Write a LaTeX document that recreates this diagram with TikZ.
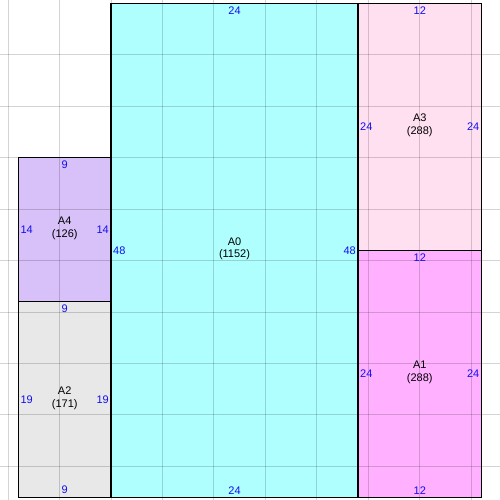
\documentclass[tikz,border=0pt]{standalone}
\usepackage{fontspec}
\setmainfont{Liberation Sans}
\definecolor{cA0}{HTML}{B0FFFF}
\definecolor{cA1}{HTML}{FFB0FF}
\definecolor{cA2}{HTML}{E8E8E8}
\definecolor{cA3}{HTML}{FFE0F0}
\definecolor{cA4}{HTML}{D8C0F8}
\definecolor{numblue}{HTML}{1010F0}
\tikzset{
  area/.style={draw=none, anchor=north west, outer sep=0pt, inner sep=0pt},
  border/.style={draw=black, line width=1.2pt},
  gridline/.style={draw=black, opacity=0.17, line width=1pt},
  toplab/.style={anchor=north, inner sep=3pt, text=numblue, font=\fontsize{11}{12.5}\selectfont},
  botlab/.style={anchor=south, inner sep=3pt, text=numblue, font=\fontsize{11}{12.5}\selectfont},
  leftlab/.style={anchor=west, inner sep=2pt, text=numblue, font=\fontsize{11}{12.5}\selectfont},
  rightlab/.style={anchor=east, inner sep=2pt, text=numblue, font=\fontsize{11}{12.5}\selectfont},
  namelab/.style={align=center, inner sep=0pt, yshift=1.5pt, font=\fontsize{11}{12.5}\selectfont}
}
\begin{document}
\begin{tikzpicture}[x=1pt, y=-1pt]
\useasboundingbox (0,0) rectangle (500,500);
\fill[white] (0,0) rectangle (500,500);
% areas
\node[area, fill=cA0, minimum width=247pt, minimum height=494pt] (A0) at (111,3.3) {};
\node[area, fill=cA3, minimum width=123.5pt, minimum height=247pt] (A3) at (358,3.3) {};
\node[area, fill=cA1, minimum width=123.5pt, minimum height=247pt] (A1) at (358,250.3) {};
\node[area, fill=cA4, minimum width=92.6pt, minimum height=144.1pt] (A4) at (18.4,157.7) {};
\node[area, fill=cA2, minimum width=92.6pt, minimum height=195.5pt] (A2) at (18.4,301.8) {};
% grid
\foreach \k in {-2,...,7} { \draw[gridline] ({111+51.458*\k},0) -- ({111+51.458*\k},500); }
\foreach \k in {1,...,9} { \draw[gridline] (0,{3.3+51.458*\k}) -- (500,{3.3+51.458*\k}); }
% borders
\foreach \n in {A0,A1,A2,A3,A4} { \draw[border] (\n.north west) rectangle (\n.south east); }
% labels A0
\node[toplab] (A0t) at (A0.north) {24};
\node[botlab] (A0b) at (A0.south) {24};
\node[leftlab] (A0l) at (A0.west) {48};
\node[rightlab] (A0r) at (A0.east) {48};
\node[namelab] (A0n) at (A0.center) {A0\\(1152)};
% A3
\node[toplab] (A3t) at (A3.north) {12};
\node[leftlab] (A3l) at (A3.west) {24};
\node[rightlab] (A3r) at (A3.east) {24};
\node[namelab] (A3n) at (A3.center) {A3\\(288)};
% A1
\node[toplab] (A1t) at (A1.north) {12};
\node[botlab] (A1b) at (A1.south) {12};
\node[leftlab] (A1l) at (A1.west) {24};
\node[rightlab] (A1r) at (A1.east) {24};
\node[namelab] (A1n) at (A1.center) {A1\\(288)};
% A4
\node[toplab] (A4t) at (A4.north) {9};
\node[leftlab] (A4l) at (A4.west) {14};
\node[rightlab] (A4r) at (A4.east) {14};
\node[namelab] (A4n) at (A4.center) {A4\\(126)};
% A2
\node[toplab] (A2t) at (A2.north) {9};
\node[botlab] (A2b) at (A2.south) {9};
\node[leftlab] (A2l) at (A2.west) {19};
\node[rightlab] (A2r) at (A2.east) {19};
\node[namelab] (A2n) at (A2.center) {A2\\(171)};
\end{tikzpicture}
\end{document}
